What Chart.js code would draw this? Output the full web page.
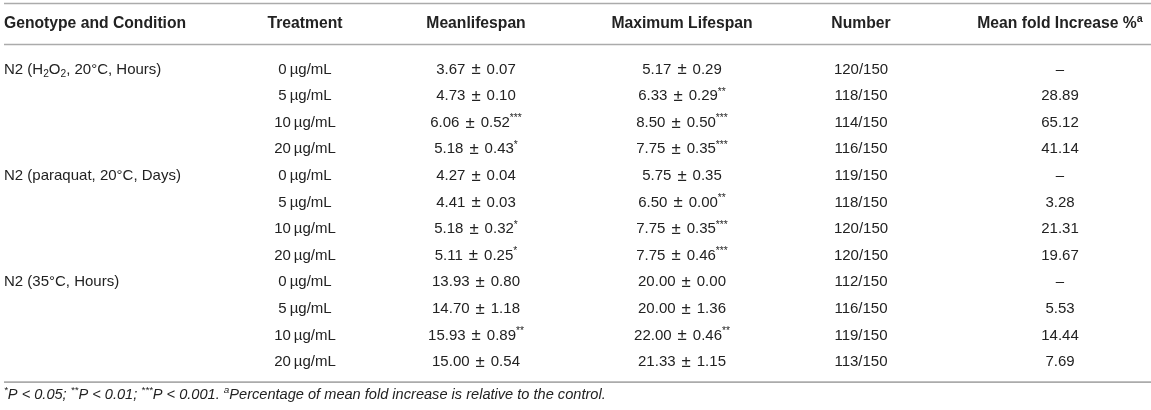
<!DOCTYPE html>
<html>
<head>
<meta charset="utf-8">
<script src="https://cdn.jsdelivr.net/npm/chart.js@4"></script>
<style>
  html, body { margin: 0; padding: 0; background: #ffffff; }
  #wrap { width: 1151px; height: 410px; position: relative; }
</style>
</head>
<body>
<div id="wrap"><canvas id="c"></canvas></div>
<script>
// ---------------- DATA ----------------
const headers = ["Genotype and Condition", "Treatment", "Meanlifespan", "Maximum Lifespan", "Number", "Mean fold Increase %^{a}"];
const conditions = ["N2 (H_{2}O_{2}, 20°C, Hours)", "N2 (paraquat, 20°C, Days)", "N2 (35°C, Hours)"];
const treatments = ["0\u2009µg/mL", "5\u2009µg/mL", "10\u2009µg/mL", "20\u2009µg/mL"];
const meanLifespan = [
  "3.67 ± 0.07", "4.73 ± 0.10", "6.06 ± 0.52^{***}", "5.18 ± 0.43^{*}",
  "4.27 ± 0.04", "4.41 ± 0.03", "5.18 ± 0.32^{*}", "5.11 ± 0.25^{*}",
  "13.93 ± 0.80", "14.70 ± 1.18", "15.93 ± 0.89^{**}", "15.00 ± 0.54"
];
const maxLifespan = [
  "5.17 ± 0.29", "6.33 ± 0.29^{**}", "8.50 ± 0.50^{***}", "7.75 ± 0.35^{***}",
  "5.75 ± 0.35", "6.50 ± 0.00^{**}", "7.75 ± 0.35^{***}", "7.75 ± 0.46^{***}",
  "20.00 ± 0.00", "20.00 ± 1.36", "22.00 ± 0.46^{**}", "21.33 ± 1.15"
];
const numbers = [
  "120/150", "118/150", "114/150", "116/150",
  "119/150", "118/150", "120/150", "120/150",
  "112/150", "116/150", "119/150", "113/150"
];
const meanFold = [
  "–", "28.89", "65.12", "41.14",
  "–", "3.28", "21.31", "19.67",
  "–", "5.53", "14.44", "7.69"
];
const footnote = "^{*}P < 0.05; ^{**}P < 0.01; ^{***}P < 0.001. ^{a}Percentage of mean fold increase is relative to the control.";

// ---------------- LAYOUT ----------------
const colX = [4, 305, 476, 682, 861, 1060];
const colAlign = ["left", "center", "center", "center", "center", "center"];
const headerRow = -1.74;
const ruleRows = [-2.44, -0.895, 11.8];
const footRow = 12.22;
const FONT = '"Liberation Sans", Arial, Helvetica, sans-serif';
const TEXT = "#222222";
const HEAD_SIZE = 15.7, BODY_SIZE = 15, FOOT_SIZE = 14.6;

// Build cell table from the arrays
const nRows = conditions.length * treatments.length;
const cells = [];
headers.forEach((h, c) => cells.push({ x: colX[c], y: headerRow, text: h, bold: true, align: colAlign[c], size: HEAD_SIZE }));
for (let r = 0; r < nRows; r++) {
  const g = Math.floor(r / treatments.length), t = r % treatments.length;
  const rowVals = [t === 0 ? conditions[g] : "", treatments[t], meanLifespan[r], maxLifespan[r], numbers[r], meanFold[r]];
  rowVals.forEach((v, c) => { if (v) cells.push({ x: colX[c], y: r, text: v, bold: false, align: colAlign[c], size: BODY_SIZE }); });
}
cells.push({ x: colX[0], y: footRow, text: footnote, bold: false, italic: true, align: "left", size: FOOT_SIZE });

// mode: 0 normal, 1 superscript, -1 subscript, 2 plus-minus sign
function parseRich(s) {
  const out = [];
  const re = /(\^\{[^}]*\}|_\{[^}]*\}| ± )/g;
  let last = 0, m;
  while ((m = re.exec(s)) !== null) {
    if (m.index > last) out.push({ t: s.slice(last, m.index), mode: 0 });
    if (m[0] === " ± ") out.push({ t: "±", mode: 2 });
    else out.push({ t: m[0].slice(2, -1), mode: m[0][0] === "^" ? 1 : -1 });
    last = re.lastIndex;
  }
  if (last < s.length) out.push({ t: s.slice(last), mode: 0 });
  return out;
}

function fontStr(cell, size) {
  return (cell.italic ? "italic " : "") + (cell.bold ? "bold " : "") + size + "px " + FONT;
}

const tablePlugin = {
  id: "tablePlugin",
  afterDatasetsDraw(chart) {
    const ctx = chart.ctx;
    const ys = chart.scales.y, xs = chart.scales.x;
    ctx.save();
    // rules
    ctx.strokeStyle = "#ababab";
    ctx.lineWidth = 1.6;
    ruleRows.forEach(r => {
      const py = ys.getPixelForValue(r);
      ctx.beginPath();
      ctx.moveTo(xs.getPixelForValue(4), py);
      ctx.lineTo(xs.getPixelForValue(1151), py);
      ctx.stroke();
    });
    // cells
    const meta = chart.getDatasetMeta(0);
    meta.data.forEach((pt, i) => {
      const cell = cells[i];
      const size = cell.size;
      const small = Math.round(size * 0.68 * 10) / 10;
      const pmSize = Math.round(size * 1.12 * 10) / 10;
      const sz = s => s.mode === 0 ? size : (s.mode === 2 ? pmSize : small);
      const segs = parseRich(cell.text);
      const pad = size * 0.4;
      let w = 0;
      segs.forEach(s => {
        ctx.font = fontStr(cell, sz(s));
        s.w = ctx.measureText(s.t).width + (s.mode === 2 ? 2 * pad : 0);
        w += s.w;
      });
      let x = pt.x;
      if (cell.align === "center") x -= w / 2;
      else if (cell.align === "right") x -= w;
      const base = pt.y + size * 0.36;
      ctx.fillStyle = TEXT;
      ctx.textBaseline = "alphabetic";
      ctx.textAlign = "left";
      segs.forEach(s => {
        ctx.font = fontStr(cell, sz(s));
        let yy = base, xx = x;
        if (s.mode === 1) yy = base - size * 0.38;
        if (s.mode === -1) yy = base + size * 0.2;
        if (s.mode === 2) { xx = x + pad; yy = base + size * 0.04; }
        ctx.fillText(s.t, xx, yy);
        x += s.w;
      });
    });
    ctx.restore();
  }
};

new Chart(document.getElementById("c"), {
  type: "scatter",
  data: {
    datasets: [{
      data: cells.map(c => ({ x: c.x, y: c.y })),
      pointRadius: 0,
      pointHoverRadius: 0,
      showLine: false
    }]
  },
  options: {
    responsive: true,
    maintainAspectRatio: false,
    animation: false,
    events: [],
    layout: { padding: 0 },
    plugins: { legend: { display: false }, tooltip: { enabled: false } },
    scales: {
      x: { type: "linear", min: 0, max: 1151, display: false },
      y: { type: "linear", min: -2.57, max: 12.85, reverse: true, display: false }
    }
  },
  plugins: [tablePlugin]
});
</script>
</body>
</html>
